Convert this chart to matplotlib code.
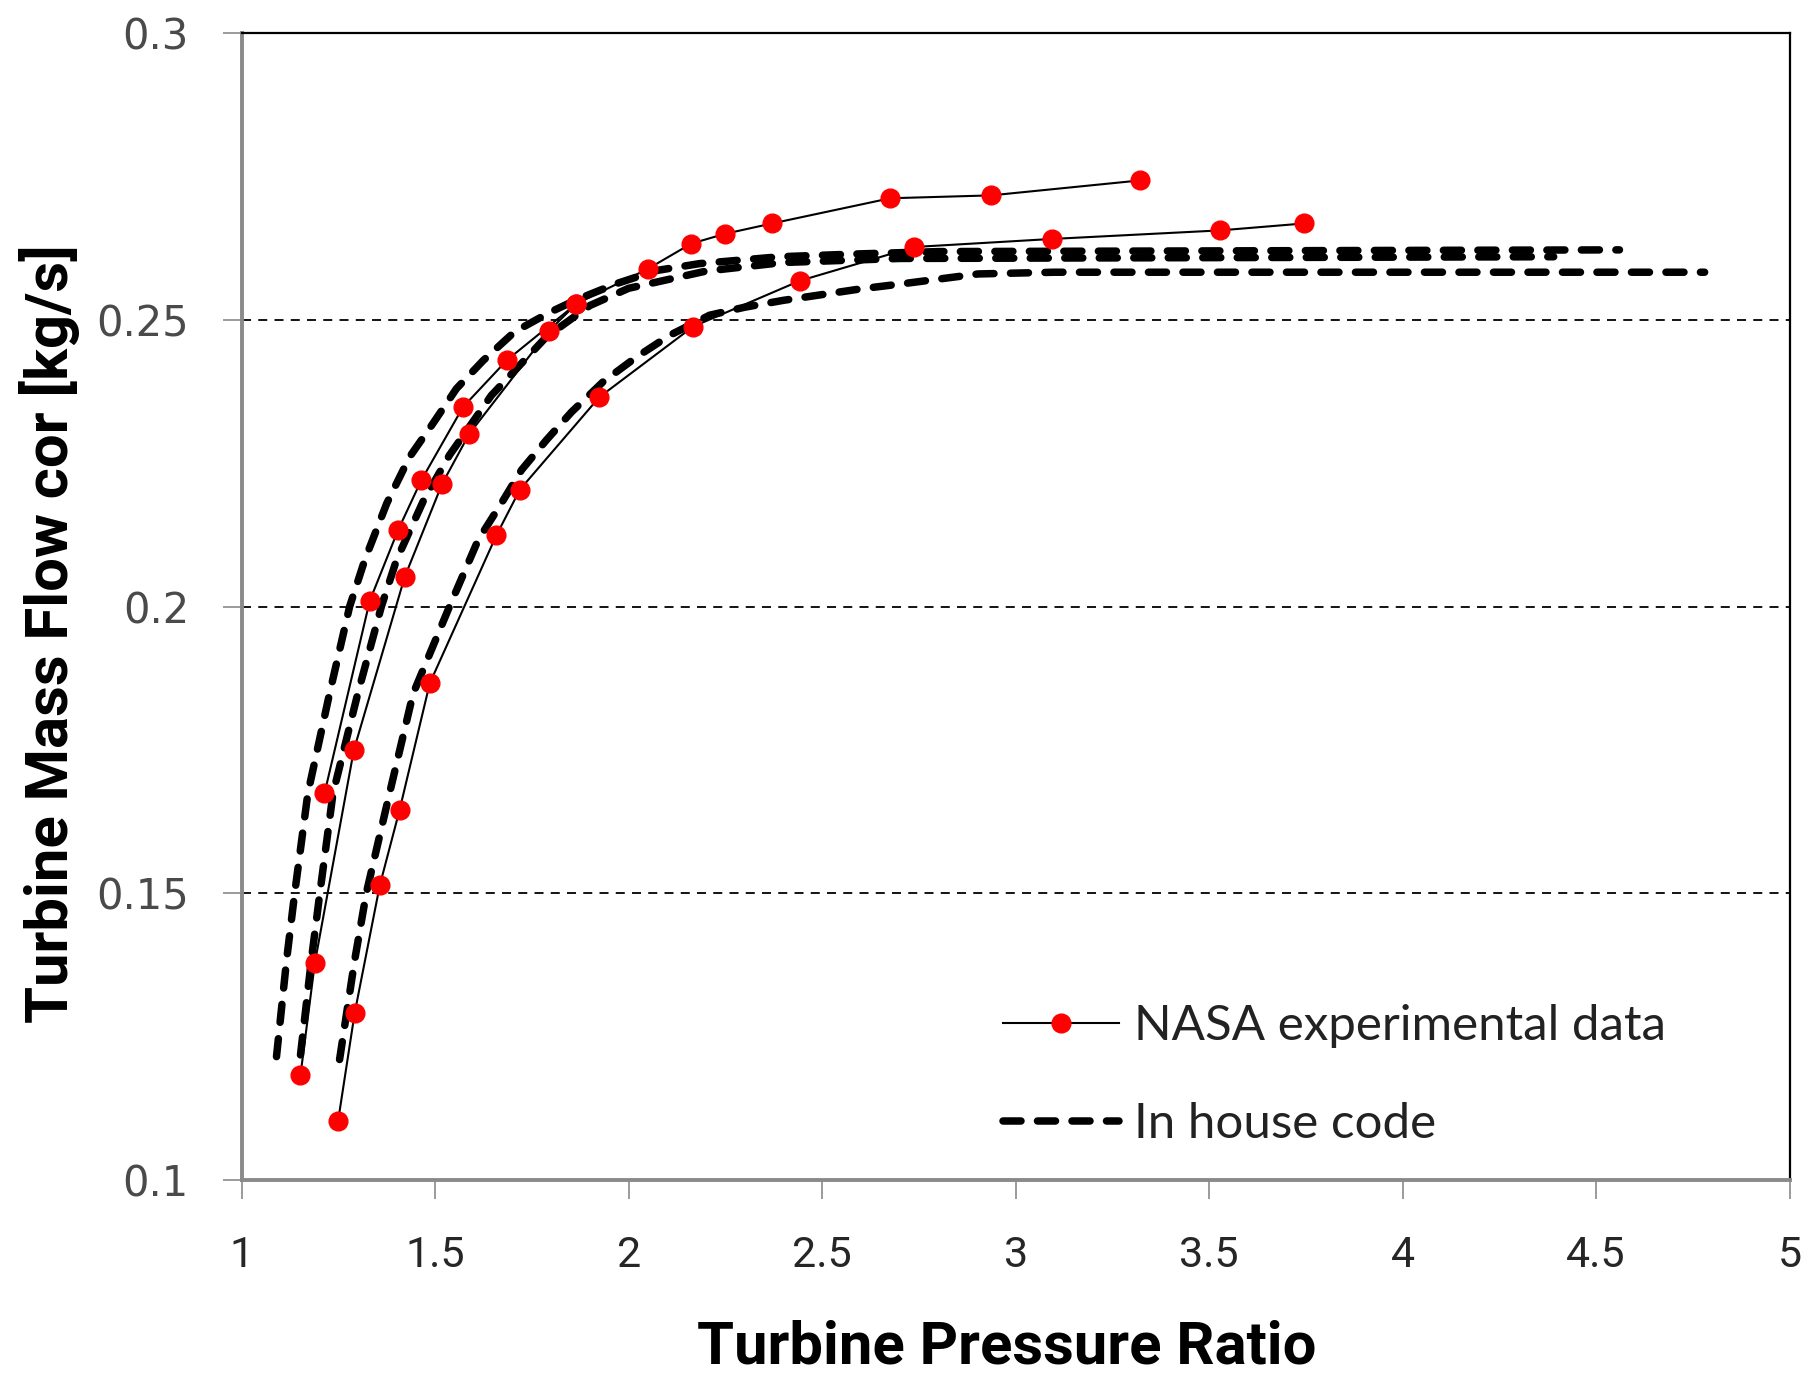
import matplotlib
matplotlib.use('Agg')
import matplotlib.pyplot as plt
from matplotlib.ticker import FixedLocator, FixedFormatter

# NASA experimental data, three speed lines
nasa_a_pr = [1.214, 1.331, 1.404, 1.464, 1.572, 1.686, 1.865, 2.050, 2.162, 2.249, 2.370, 2.676, 2.936, 3.320]
nasa_a_mf = [0.1674, 0.2010, 0.2133, 0.2220, 0.2348, 0.2430, 0.2528, 0.2589, 0.2633, 0.2650, 0.2668, 0.2712, 0.2717, 0.2743]

nasa_b_pr = [1.152, 1.189, 1.290, 1.421, 1.518, 1.588, 1.793, 1.865]
nasa_b_mf = [0.1183, 0.1378, 0.1750, 0.2051, 0.2214, 0.2301, 0.2480, 0.2528]

nasa_c_pr = [1.249, 1.292, 1.357, 1.408, 1.486, 1.658, 1.719, 1.924, 2.166, 2.442, 2.738, 3.093, 3.529, 3.744]
nasa_c_mf = [0.1102, 0.1291, 0.1514, 0.1645, 0.1866, 0.2124, 0.2204, 0.2365, 0.2488, 0.2568, 0.2627, 0.2641, 0.2656, 0.2668]

# in house code results
code_a_pr = [1.090, 1.116, 1.137, 1.171, 1.227, 1.279, 1.318, 1.375, 1.434, 1.494, 1.555, 1.624, 1.705,
             1.796, 1.865, 1.968, 2.072, 2.183, 2.390, 2.597, 2.800, 4.560]
code_a_mf = [0.1215, 0.1383, 0.1500, 0.1674, 0.1848, 0.2000, 0.2081, 0.2180, 0.2261, 0.2319, 0.2380, 0.2429, 0.2479,
             0.2513, 0.2535, 0.2563, 0.2586, 0.2598, 0.2610, 0.2615, 0.2619, 0.2622]

code_b_pr = [1.152, 1.180, 1.202, 1.236, 1.300, 1.361, 1.400, 1.470, 1.537, 1.645, 1.787, 1.900, 2.000, 2.200,
             2.400, 2.700, 4.390]
code_b_mf = [0.1218, 0.1383, 0.1500, 0.1674, 0.1848, 0.2000, 0.2081, 0.2185, 0.2264, 0.2368, 0.2470, 0.2525, 0.2555,
             0.2585, 0.2600, 0.2607, 0.2610]

code_c_pr = [1.253, 1.292, 1.322, 1.382, 1.443, 1.537, 1.611, 1.671, 1.723, 1.787, 1.852, 1.934, 2.020, 2.106,
             2.209, 2.300, 2.400, 2.500, 2.600, 2.709, 2.812, 2.903, 3.100, 4.780]
code_c_mf = [0.1210, 0.1383, 0.1500, 0.1674, 0.1848, 0.2000, 0.2116, 0.2180, 0.2238, 0.2290, 0.2339, 0.2392, 0.2435,
             0.2473, 0.2508, 0.2522, 0.2534, 0.2544, 0.2554, 0.2563, 0.2572, 0.2580, 0.2583, 0.2583]

x_ticks = [1, 1.5, 2, 2.5, 3, 3.5, 4, 4.5, 5]
x_tick_labels = ['1', '1.5', '2', '2.5', '3', '3.5', '4', '4.5', '5']
y_ticks = [0.1, 0.15, 0.2, 0.25, 0.3]
y_tick_labels = ['0.1', '0.15', '0.2', '0.25', '0.3']

NARROW = ['Roboto', 'DejaVu Sans']

fig = plt.figure(figsize=(18.17, 13.8), dpi=100)
ax = fig.add_axes([0.133, 0.145, 0.852, 0.831])

dash_style = dict(color='black', lw=5.4, linestyle=(0, (2.4, 2.2)), dash_capstyle='round')
for pr, mf in [(code_a_pr, code_a_mf), (code_b_pr, code_b_mf), (code_c_pr, code_c_mf)]:
    ax.plot(pr, mf, zorder=3, **dash_style)

nasa_style = dict(color='black', lw=1.5, marker='o', markersize=13.5,
                  markerfacecolor='#ff0000', markeredgecolor='#ff0000')
for pr, mf in [(nasa_a_pr, nasa_a_mf), (nasa_b_pr, nasa_b_mf), (nasa_c_pr, nasa_c_mf)]:
    ax.plot(pr, mf, zorder=4, **nasa_style)

ax.set_xlim(1, 5)
ax.set_ylim(0.1, 0.3)

ax.xaxis.set_major_locator(FixedLocator(x_ticks))
ax.xaxis.set_major_formatter(FixedFormatter(x_tick_labels))
ax.yaxis.set_major_locator(FixedLocator(y_ticks))
ax.yaxis.set_major_formatter(FixedFormatter(y_tick_labels))

ax.set_axisbelow(True)
ax.yaxis.grid(True, color='black', lw=1.3, linestyle=(0, (5, 4)))
ax.xaxis.grid(False)

for side in ['left', 'bottom']:
    ax.spines[side].set_color('#8a8a8a')
    ax.spines[side].set_linewidth(2.8)
for side in ['top', 'right']:
    ax.spines[side].set_color('black')
    ax.spines[side].set_linewidth(1.6)

ax.tick_params(axis='both', direction='out', length=14, width=1.2, color='#8a8a8a')
ax.tick_params(axis='y', pad=24, labelsize=30, labelcolor='#4a4a4a')
ax.tick_params(axis='x', pad=26, labelsize=31, labelcolor='#262626')
for lab in ax.get_xticklabels():
    lab.set_family(NARROW)

ax.set_xlabel('Turbine Pressure Ratio', fontsize=43, fontweight='bold', family=NARROW)
ax.xaxis.label.set_va('center')
ax.xaxis.set_label_coords(0.494, -0.1465)
ax.set_ylabel('Turbine Mass Flow cor [kg/s]', fontsize=43, fontweight='bold', family=NARROW)
ax.yaxis.label.set_va('center')
ax.yaxis.set_label_coords(-0.124, 0.476)

# legend handles: first line of each series
handles = [ax.lines[3], ax.lines[0]]
leg = ax.legend(handles, ['NASA experimental data', 'In house code'],
                loc='upper left', bbox_to_anchor=(0.552, 0.2725), bbox_transform=fig.transFigure,
                frameon=False, prop={'family': 'Lato', 'size': 35.5},
                handlelength=2.35, handletextpad=0.3, labelspacing=1.1, borderpad=0,
                borderaxespad=0)
for t in leg.get_texts():
    t.set_color('#222222')

fig.savefig('out.png', dpi=100)
